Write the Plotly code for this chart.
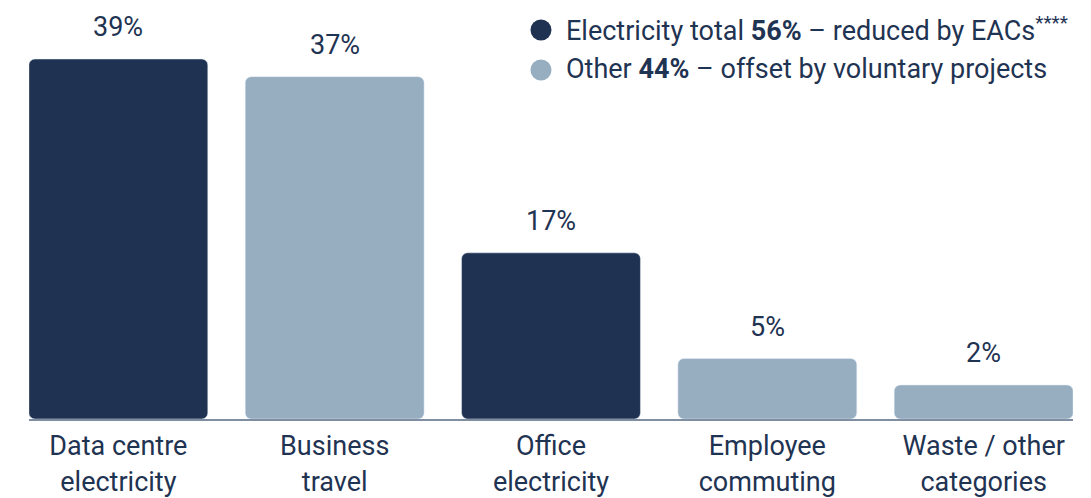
import plotly.graph_objects as go

categories = ["Data centre<br>electricity", "Business<br>travel", "Office<br>electricity",
              "Employee<br>commuting", "Waste / other<br>categories"]
values = [39, 37, 17, 5, 2]
groups = ["Electricity", "Other", "Electricity", "Other", "Other"]
value_labels = ["39%", "37%", "17%", "5%", "2%"]

legend_groups = ["Electricity", "Other"]
legend_texts = [
    "Electricity total <b>56%</b> – reduced by EACs<sup>****</sup>",
    "Other <b>44%</b> – offset by voluntary projects",
]
colors = {"Electricity": "#1f3252", "Other": "#97aec1"}
TEXT = "#1f3352"
FLOOR = -1.86
FONT = "Roboto"
FS = 27

fig = go.Figure()
for g in legend_groups:
    xs = [c for c, gg in zip(categories, groups) if gg == g]
    ys = [v - FLOOR for v, gg in zip(values, groups) if gg == g]
    fig.add_trace(go.Bar(x=xs, y=ys, base=FLOOR, name=g,
                         marker=dict(color=colors[g], cornerradius=6),
                         showlegend=False, hoverinfo="skip"))

for c, v, t in zip(categories, values, value_labels):
    fig.add_annotation(x=c, y=v, text=t, showarrow=False, yanchor="bottom", yshift=14,
                       font=dict(family=FONT, size=FS, color=TEXT))

# custom legend (circle markers + text)
row_y = [0.9308, 0.8353]
for g, txt, ry in zip(legend_groups, legend_texts, row_y):
    fig.add_shape(type="circle", xref="paper", yref="paper", xsizemode="pixel", ysizemode="pixel",
                  xanchor=0.4904, yanchor=ry - 0.0024, x0=-10.5, x1=10.5, y0=-10.5, y1=10.5,
                  fillcolor=colors[g], line=dict(width=0))
    fig.add_annotation(xref="paper", yref="paper", x=0.5125, y=ry, text=txt, showarrow=False,
                       xanchor="left", yanchor="middle", font=dict(family=FONT, size=FS, color=TEXT))

fig.update_layout(
    width=1091, height=498,
    margin=dict(l=29, r=18, t=0, b=79),
    paper_bgcolor="white", plot_bgcolor="white",
    barmode="overlay", bargap=0.173,
    font=dict(family=FONT, size=FS, color=TEXT),
    showlegend=False,
    xaxis=dict(range=[-0.413, 4.413], categoryorder="array", categoryarray=categories,
               showgrid=False, showline=True, linecolor="#7f8ea1", automargin=False,
               linewidth=2, ticks="", tickfont=dict(size=FS, color=TEXT), ticklabelstandoff=2,
               fixedrange=True),
    yaxis=dict(range=[FLOOR, 45.7], showgrid=False, showticklabels=False, zeroline=False,
               showline=False, fixedrange=True, automargin=False),
)
fig.write_html("out.html")
